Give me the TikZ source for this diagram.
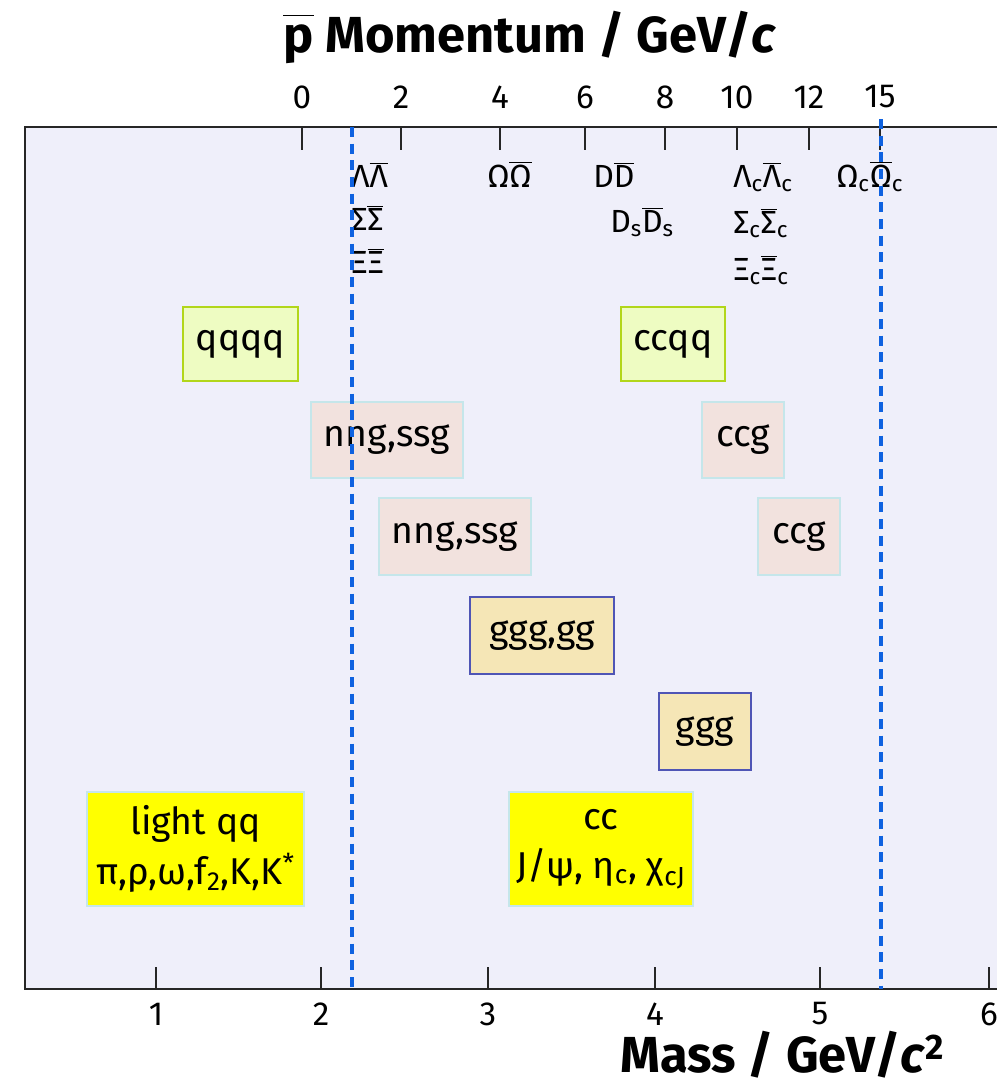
\documentclass[tikz,border=0pt]{standalone}
\usepackage{fontspec}
\setmainfont{Fira Sans}
\definecolor{plotbg}{HTML}{EFEFFA}
\definecolor{qfill}{HTML}{EEFCC2}
\definecolor{qline}{HTML}{B2D61A}
\definecolor{pfill}{HTML}{F2E2DE}
\definecolor{cline}{HTML}{C5E6EA}
\definecolor{gfill}{HTML}{F5E6B6}
\definecolor{gline}{HTML}{4F55B5}
\definecolor{yfill}{HTML}{FFFF00}
\definecolor{dblue}{HTML}{0F62E0}
\newcommand{\bb}[1]{\ensuremath{\overline{\mbox{#1}}}}
\newcommand{\sbc}{\textsubscript{c}}
\begin{document}
\begin{tikzpicture}[x=0.75pt,y=-0.75pt,
  boxbase/.style={inner sep=0pt, line width=1.5pt, text=black, align=center,
    font=\fontsize{28}{37}\selectfont},
  qbox/.style={boxbase, draw=qline, fill=qfill},
  pbox/.style={boxbase, draw=cline, fill=pfill},
  gbox/.style={boxbase, draw=gline, fill=gfill},
  ybox/.style={boxbase, draw=cline, fill=yfill},
  ticklab/.style={font=\fontsize{25}{28}\selectfont, inner sep=0pt},
  barlab/.style={font=\fontsize{24}{26}\selectfont, inner sep=0pt, anchor=base west},
  axtitle/.style={inner sep=0pt, anchor=base west},
  frameline/.style={line width=2pt, draw=black!85},
  tickline/.style={line width=1.1pt, draw=black!85},
  thresh/.style={line width=2.6pt, draw=dblue, dash pattern=on 7.5pt off 5pt}
]
\useasboundingbox (0,0) rectangle (997,1086);
\fill[white] (0,0) rectangle (997,1086);
\fill[plotbg] (25,127) rectangle (997,989);
\draw[frameline] (997,127) -- (25,127) -- (25,989) -- (997,989);

% top axis
\node[axtitle, font=\fontsize{38}{42}\selectfont\bfseries] (toptitle) at (283,52) {\bb{p\vphantom{M}} Momentum / GeV/\textit{c}};
\foreach \x/\l in {302/0,401/2,500/4,585/6,665/8,737/10,809/12,880/15}{
  \draw[tickline] (\x,127) -- (\x,150);
  \node[ticklab] (pt\l) at (\x,97) {\l};
}
% bottom axis
\foreach \x/\l in {156/1,321/2,488/3,655/4,820/5,989/6}{
  \draw[tickline] (\x,967) -- (\x,989);
  \node[ticklab] (mt\l) at (\x,1014) {\l};
}
\node[axtitle, font=\fontsize{38}{42}\selectfont\bfseries] (bottitle) at (620,1072) {Mass / GeV/\textit{c}\textsuperscript{2}};

% thresholds
\node[barlab] (LL) at (351,187) {Λ\bb{Λ}};
\node[barlab] (SS) at (351,230) {Σ\bb{Σ}};
\node[barlab] (XX) at (351,273) {Ξ\bb{Ξ}};
\node[barlab] (OO) at (487,187) {Ω\bb{Ω}};
\node[barlab] (DD) at (593,187) {D\bb{D}};
\node[barlab] (DsDs) at (610,232) {D\textsubscript{s}\bb{D}\textsubscript{s}};
\node[barlab] (LcLc) at (733,187) {Λ\sbc\bb{Λ}\sbc};
\node[barlab] (ScSc) at (733,233) {Σ\sbc\bb{Σ}\sbc};
\node[barlab] (XcXc) at (733,280) {Ξ\sbc\bb{Ξ}\sbc};
\node[barlab] (OcOc) at (836,187) {Ω\sbc\bb{Ω}\sbc};

% boxes
\node[qbox, minimum width=86.25pt, minimum height=55.5pt] (qqqq) at (240.5,344) {qqqq};
\node[qbox, minimum width=78pt, minimum height=55.5pt] (ccqq) at (673,344) {ccqq};
\node[pbox, minimum width=114pt, minimum height=57pt] (nng1) at (387,440) {nng,ssg};
\node[pbox, minimum width=61.5pt, minimum height=57pt] (ccg1) at (743,440) {ccg};
\node[pbox, minimum width=114pt, minimum height=57.75pt] (nng2) at (455,536.5) {nng,ssg};
\node[pbox, minimum width=61.5pt, minimum height=57.75pt] (ccg2) at (799,536.5) {ccg};
\node[gbox, minimum width=108pt, minimum height=57.75pt] (gggg) at (542,635.5) {ggg,gg};
\node[gbox, minimum width=69pt, minimum height=57.75pt] (ggg) at (705,731.5) {ggg};
\node[ybox, minimum width=162.75pt, minimum height=85.5pt] (light) at (195.5,849) {light qq\\π,ρ,ω,f\textsubscript{2},K,K\textsuperscript{*}};
\node[ybox, minimum width=138pt, minimum height=85.5pt] (charm) at (601,849) {cc\\J/ψ, η\sbc, χ\textsubscript{cJ}};

% threshold lines
\draw[thresh] (352,127) -- (352,993);
\draw[thresh] (881,119) -- (881,989);
\end{tikzpicture}
\end{document}
